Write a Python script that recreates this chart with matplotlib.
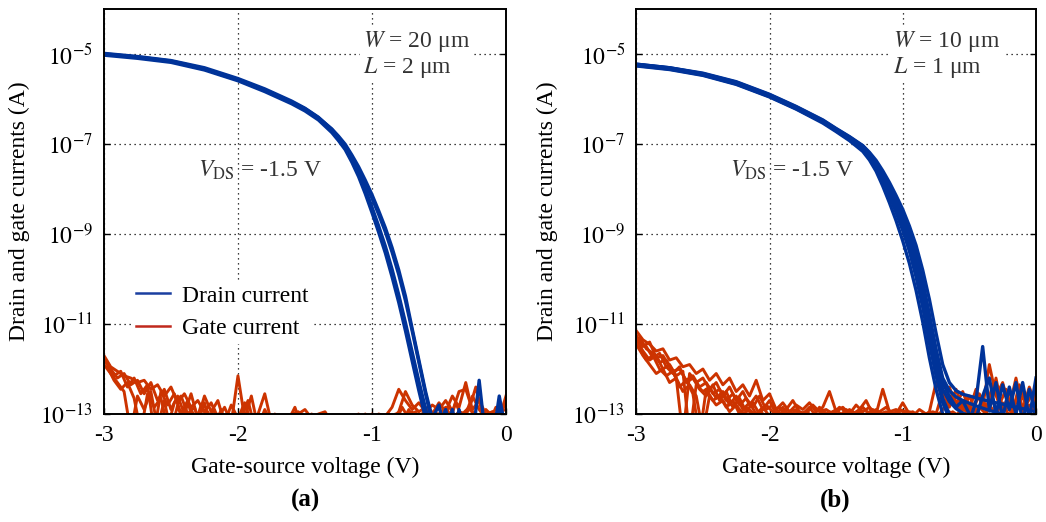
import numpy as np
import matplotlib
matplotlib.use("Agg")
import matplotlib.pyplot as plt
from matplotlib.lines import Line2D
from matplotlib.ticker import FixedLocator, FixedFormatter, NullLocator

plt.rcParams.update({
    "font.family": "Liberation Serif",
    "mathtext.fontset": "stix",
    "font.size": 17,
})

DRAIN_BLUE = "#003399"
GATE_RED = "#cc3300"
TEXT_GREY = "#333333"

# gate-source sweeps for the gate current traces (50 mV steps, two interleaved grids)
GATE_V = np.linspace(-3.0, 0.0, 61)
GATE_V_MID = np.linspace(-2.975, -0.025, 60)

# sweep points kept for the drain current traces
DRAIN_V = [-3.0, -2.75, -2.5, -2.25, -2.0, -1.8, -1.6, -1.5, -1.4, -1.3, -1.25, -1.2, -1.15,
           -1.1, -1.05, -1.0, -0.95, -0.9, -0.85, -0.8, -0.75, -0.7, -0.65, -0.6, -0.55,
           -0.5, -0.45, -0.4, -0.35, -0.3, -0.25, -0.2, -0.15, -0.1, -0.05, 0.0]

# ---- device (a): W = 20 um, L = 2 um, log10 of current in A ----
LOG_ID_A = [
    [-5.00, -5.07, -5.16, -5.33, -5.57, -5.80, -6.07, -6.23, -6.43, -6.70, -6.88, -7.08, -7.35,
     -7.66, -8.04, -8.45, -8.88, -9.33, -9.85, -10.42, -11.05, -11.70, -12.35, -12.95, -13.50,
     -13.6, -13.6, -13.6, -13.6, -13.6, -13.6, -13.6, -13.6, -13.6, -13.6, -13.6],
    [-4.98, -5.05, -5.14, -5.30, -5.54, -5.77, -6.04, -6.20, -6.40, -6.67, -6.85, -7.05, -7.31,
     -7.62, -7.99, -8.40, -8.82, -9.27, -9.78, -10.35, -10.97, -11.62, -12.27, -12.88, -13.45,
     -13.3, -12.9, -13.5, -13.6, -13.6, -13.6, -13.6, -13.6, -13.6, -13.6, -13.6],
    [-5.02, -5.09, -5.18, -5.35, -5.59, -5.83, -6.10, -6.26, -6.46, -6.74, -6.92, -7.12, -7.40,
     -7.72, -8.10, -8.52, -8.96, -9.42, -9.95, -10.52, -11.15, -11.82, -12.48, -13.10, -13.6,
     -13.6, -13.6, -13.6, -13.6, -13.6, -13.6, -13.6, -13.6, -13.6, -13.6, -13.6],
    [-4.99, -5.06, -5.15, -5.32, -5.56, -5.79, -6.06, -6.21, -6.41, -6.66, -6.82, -7.00, -7.24,
     -7.50, -7.80, -8.12, -8.48, -8.86, -9.30, -9.80, -10.38, -11.10, -11.80, -12.50, -13.10,
     -12.8, -13.5, -12.9, -13.6, -13.6, -13.6, -12.25, -13.6, -13.6, -12.6, -13.4],
    [-5.00, -5.07, -5.16, -5.33, -5.57, -5.80, -6.07, -6.22, -6.42, -6.68, -6.85, -7.03, -7.28,
     -7.55, -7.86, -8.20, -8.56, -8.95, -9.40, -9.90, -10.48, -11.15, -11.85, -12.55, -13.20,
     -13.6, -13.0, -13.6, -12.9, -13.6, -13.6, -13.6, -13.6, -13.6, -12.8, -13.6],
]

LOG_IG_A = [
    [-11.70, -11.95, -12.05, -12.15, -12.20, -12.30, -12.25, -12.45, -12.35, -12.60,
     -12.40, -12.75, -12.55, -12.85, -12.70, -12.95, -12.75, -13.10, -12.85, -13.20,
     -12.15, -13.10, -12.60, -13.30, -12.90, -13.20, -13.05, -13.30, -13.00, -12.95,
     -13.10, -13.00, -13.30, -13.05, -13.40, -13.10, -13.30, -13.05, -13.20, -13.00,
     -13.15, -13.00, -13.05, -12.85, -12.45, -12.70, -12.90, -12.75, -12.95, -12.80,
     -12.90, -12.70, -12.95, -12.50, -12.45, -12.90, -12.70, -13.00, -12.95, -13.05,
     -12.75],
    [-11.80, -12.00, -12.20, -12.10, -12.35, -12.25, -12.55, -12.30, -12.70, -12.45,
     -12.90, -12.60, -13.00, -12.55, -13.10, -12.60, -12.95, -12.70, -13.20, -12.80,
     -13.10, -12.75, -13.20, -13.00, -12.55, -13.20, -13.05, -13.30, -13.10, -13.00,
     -12.90, -13.10, -13.00, -12.95, -13.20, -13.05, -13.30, -13.10, -13.00, -13.20,
     -13.10, -13.25, -13.05, -13.10, -12.95, -12.50, -12.80, -12.95, -12.85, -13.00,
     -12.75, -12.95, -12.60, -12.85, -12.30, -12.95, -13.10, -12.90, -13.05, -12.95,
     -12.90],
    [-11.90, -12.10, -12.30, -12.50, -13.40, -12.60, -12.90, -12.50, -13.30, -12.70,
     -13.40, -12.80, -13.30, -12.90, -13.20, -12.75, -13.30, -13.00, -13.30, -13.10,
     -13.20, -13.30, -13.10, -13.30, -13.20, -13.30, -13.10, -13.30, -13.20, -13.30,
     -13.15, -13.30, -13.20, -13.30, -13.20, -13.30, -13.10, -13.30, -13.20, -13.30,
     -13.00, -13.30, -13.10, -13.20, -13.00, -13.10, -12.95, -13.10, -12.90, -13.20,
     -13.00, -12.85, -13.10, -12.95, -13.00, -12.60, -12.90, -13.10, -12.95, -13.10,
     -12.60],
]

# traces of device (a) sampled on the interleaved grid
LOG_IG_A_MID = [
    [-11.85, -12.15, -12.05, -12.40, -12.20, -12.55, -12.35, -13.40, -12.50, -12.80,
     -12.55, -13.00, -12.70, -13.30, -12.80, -13.10, -12.90, -13.40, -13.00, -13.30,
     -13.10, -12.70, -13.30, -13.10, -13.40, -13.00, -13.30, -13.15, -12.85, -13.30,
     -13.10, -13.30, -13.00, -13.40, -13.20, -13.30, -13.10, -13.40, -13.20, -13.30,
     -13.10, -13.30, -13.00, -13.20, -12.85, -13.10, -12.95, -13.20, -12.85, -13.10,
     -12.95, -13.20, -12.75, -13.10, -12.90, -12.40, -13.00, -13.20, -12.85, -13.10],
    [-11.95, -12.25, -12.45, -12.30, -12.65, -13.40, -12.55, -12.85, -12.65, -13.30,
     -12.75, -12.60, -13.00, -12.85, -13.30, -12.95, -13.30, -12.90, -13.40, -13.20,
     -13.40, -13.20, -13.40, -13.30, -13.40, -13.20, -13.40, -13.30, -13.40, -13.20,
     -13.40, -13.30, -13.40, -13.20, -13.40, -13.30, -13.40, -13.30, -13.40, -13.20,
     -13.30, -13.10, -13.30, -13.00, -13.20, -12.90, -13.20, -13.00, -13.30, -12.95,
     -13.20, -12.80, -13.10, -13.00, -12.85, -13.10, -13.00, -13.20, -13.05, -12.90],
]

# ---- device (b): W = 10 um, L = 1 um ----
LOG_ID_B = [
    [-5.26, -5.34, -5.47, -5.67, -5.95, -6.22, -6.53, -6.72, -6.92, -7.16, -7.35, -7.60, -7.93,
     -8.30, -8.70, -9.15, -9.65, -10.25, -10.95, -11.75, -12.45, -13.00, -13.40, -13.6, -13.6,
     -13.6, -13.6, -13.6, -13.6, -13.6, -13.6, -13.6, -13.6, -13.6, -13.6, -13.6],
    [-5.24, -5.32, -5.45, -5.65, -5.93, -6.20, -6.50, -6.69, -6.88, -7.10, -7.28, -7.50, -7.78,
     -8.10, -8.46, -8.85, -9.30, -9.85, -10.55, -11.35, -12.05, -12.65, -13.00, -13.25, -13.15,
     -13.5, -13.1, -13.6, -13.0, -13.4, -13.6, -13.1, -13.6, -13.2, -13.6, -13.6],
    [-5.23, -5.31, -5.44, -5.64, -5.92, -6.19, -6.49, -6.68, -6.86, -7.07, -7.24, -7.45, -7.71,
     -8.02, -8.37, -8.75, -9.18, -9.70, -10.38, -11.15, -11.90, -12.45, -12.72, -12.88, -12.98,
     -13.04, -13.10, -13.15, -13.20, -13.25, -13.30, -13.35, -13.40, -13.45, -13.50, -13.6],
    [-5.22, -5.30, -5.43, -5.62, -5.90, -6.17, -6.47, -6.66, -6.84, -7.04, -7.20, -7.40, -7.64,
     -7.92, -8.24, -8.58, -8.98, -9.45, -10.05, -10.78, -11.55, -12.20, -12.48, -12.62, -12.70,
     -12.76, -12.82, -12.87, -12.92, -12.96, -13.00, -13.02, -13.05, -13.07, -13.10, -13.12],
    [-5.22, -5.30, -5.42, -5.61, -5.89, -6.16, -6.46, -6.65, -6.83, -7.03, -7.18, -7.36, -7.59,
     -7.85, -8.14, -8.45, -8.82, -9.25, -9.80, -10.45, -11.20, -11.90, -12.30, -12.48, -12.56,
     -12.60, -12.64, -12.68, -12.72, -12.75, -12.78, -12.82, -12.85, -12.88, -12.92, -12.95],
    [-5.25, -5.33, -5.46, -5.66, -5.94, -6.21, -6.51, -6.70, -6.90, -7.13, -7.32, -7.54, -7.83,
     -8.15, -8.52, -8.92, -9.38, -9.95, -10.62, -11.42, -12.15, -12.75, -13.10, -13.30, -13.00,
     -13.20, -12.70, -11.50, -12.90, -12.30, -13.10, -12.40, -13.00, -12.30, -13.10, -12.20],
    [-5.23, -5.31, -5.44, -5.63, -5.91, -6.18, -6.48, -6.67, -6.85, -7.06, -7.23, -7.43, -7.69,
     -7.98, -8.31, -8.66, -9.08, -9.58, -10.20, -10.95, -11.72, -12.30, -12.60, -12.85, -12.70,
     -13.00, -13.10, -12.60, -12.20, -13.00, -12.35, -12.90, -12.30, -13.20, -12.45, -12.95],
]

LOG_IG_B = [
    [-11.15, -11.35, -11.45, -11.60, -11.55, -11.80, -11.75, -11.95, -11.90, -12.10,
     -12.00, -12.25, -12.10, -12.35, -12.20, -12.50, -12.35, -12.60, -12.25, -12.70,
     -12.55, -12.90, -12.75, -12.95, -12.80, -12.90, -12.75, -12.95, -12.85, -12.50,
     -12.95, -12.85, -13.00, -12.80, -12.95, -12.85, -13.00, -12.45, -12.95, -12.90,
     -13.05, -12.95, -13.00, -13.05, -12.95, -12.30, -12.60, -12.40, -12.80, -12.50,
     -12.90, -12.45, -12.85, -11.90, -12.60, -12.30, -12.85, -12.20, -12.90, -12.40,
     -12.80],
    [-11.25, -11.50, -11.40, -11.75, -11.70, -11.95, -12.20, -13.50, -12.10, -12.30,
     -12.20, -12.45, -12.30, -12.60, -12.40, -12.70, -12.50, -12.80, -12.60, -12.90,
     -12.70, -13.00, -12.85, -13.05, -12.90, -13.00, -12.85, -13.05, -12.95, -13.00,
     -12.90, -13.05, -12.90, -13.00, -12.85, -13.00, -12.90, -13.05, -12.95, -13.00,
     -12.75, -13.00, -13.05, -13.00, -13.05, -13.00, -12.50, -12.85, -12.45, -12.90,
     -12.60, -12.95, -12.70, -12.90, -12.20, -12.95, -12.50, -12.90, -12.60, -13.00,
     -12.50],
    [-11.35, -11.60, -11.80, -11.70, -12.00, -11.90, -12.15, -12.05, -13.50, -12.35,
     -12.50, -12.40, -12.65, -12.50, -12.80, -12.60, -12.90, -12.75, -13.00, -12.85,
     -13.05, -12.95, -13.05, -12.95, -13.05, -13.00, -13.05, -13.00, -13.05, -12.95,
     -13.05, -13.00, -13.05, -13.00, -13.05, -12.95, -13.05, -13.00, -13.05, -13.00,
     -13.05, -13.00, -13.05, -13.00, -13.05, -13.05, -13.10, -12.95, -13.05, -12.85,
     -13.05, -12.90, -13.05, -12.80, -13.00, -12.75, -13.05, -12.70, -13.00, -12.80,
     -13.00],
    [-11.45, -11.70, -11.90, -12.10, -12.00, -12.30, -12.20, -12.50, -12.35, -12.60,
     -13.40, -12.60, -12.80, -12.70, -12.95, -12.80, -13.00, -12.90, -13.05, -13.00,
     -13.05, -13.00, -13.05, -13.05, -13.00, -13.05, -13.05, -13.00, -13.05, -13.05,
     -13.00, -13.05, -13.05, -13.00, -13.05, -13.05, -13.00, -13.05, -13.05, -13.00,
     -13.05, -13.05, -13.00, -13.05, -13.05, -13.05, -13.05, -13.05, -13.05, -13.05,
     -13.05, -13.05, -13.05, -13.05, -13.05, -13.05, -13.05, -13.05, -13.05, -13.05,
     -13.05],
]

LOG_IG_B_MID = [
    [-11.30, -11.55, -11.65, -11.85, -11.80, -12.05, -12.00, -12.25, -12.15, -12.40,
     -12.30, -12.55, -12.45, -12.70, -12.55, -12.80, -12.65, -12.85, -12.60, -12.90,
     -12.80, -13.00, -12.90, -12.70, -12.95, -13.00, -12.80, -12.95, -12.90, -13.00,
     -12.85, -12.95, -13.00, -12.90, -12.70, -13.00, -12.95, -12.85, -13.00, -12.90,
     -12.95, -13.05, -12.90, -13.00, -12.95, -13.00, -12.80, -12.55, -12.90, -12.65,
     -12.95, -12.55, -12.90, -12.35, -12.80, -12.45, -12.95, -12.35, -12.80, -12.55],
    [-11.40, -11.50, -11.75, -11.65, -11.95, -12.10, -11.95, -12.30, -12.20, -12.45,
     -12.60, -12.35, -12.70, -12.50, -12.85, -12.65, -12.95, -12.75, -13.00, -12.80,
     -12.95, -12.85, -13.05, -12.90, -13.00, -12.95, -13.05, -12.85, -13.00, -12.95,
     -13.05, -12.90, -13.00, -12.95, -13.05, -12.90, -13.00, -12.95, -13.05, -12.90,
     -13.00, -12.95, -13.05, -13.00, -13.05, -13.05, -13.05, -12.95, -13.05, -12.80,
     -13.05, -12.85, -13.00, -12.70, -13.05, -12.80, -13.00, -12.85, -13.05, -12.90],
    [-11.55, -11.80, -11.70, -12.00, -12.15, -12.05, -12.40, -12.25, -12.55, -13.50,
     -12.45, -12.70, -12.60, -12.85, -12.70, -13.00, -12.85, -13.05, -12.95, -13.05,
     -13.00, -13.05, -13.00, -13.05, -13.00, -13.05, -13.00, -13.05, -13.00, -13.05,
     -13.00, -13.05, -13.00, -13.05, -13.00, -13.05, -13.00, -13.05, -13.00, -13.05,
     -13.05, -13.05, -13.05, -13.05, -13.05, -13.05, -13.05, -13.05, -13.05, -13.05,
     -13.05, -13.05, -13.05, -13.05, -13.05, -13.05, -13.05, -13.05, -13.05, -13.05],
]

X_TICKS = [-3, -2, -1, 0]
X_TICK_LABELS = ["-3", "-2", "-1", "0"]
Y_DECADES = [-13, -11, -9, -7, -5]


def draw_panel(ax, log_id, log_ig, log_ig_mid, w_text, l_text):
    for trace in log_ig:
        ax.plot(GATE_V, 10.0 ** np.asarray(trace), color=GATE_RED, lw=2.1,
                solid_joinstyle="round")
    for trace in log_ig_mid:
        ax.plot(GATE_V_MID, 10.0 ** np.asarray(trace), color=GATE_RED, lw=2.1,
                solid_joinstyle="round")
    for trace in log_id:
        ax.plot(DRAIN_V, 10.0 ** np.asarray(trace), color=DRAIN_BLUE, lw=2.4,
                solid_joinstyle="round")

    ax.set_yscale("log")
    ax.set_xlim(-3, 0)
    ax.set_ylim(1e-13, 1e-4)

    ax.xaxis.set_major_locator(FixedLocator(X_TICKS))
    ax.xaxis.set_major_formatter(FixedFormatter(X_TICK_LABELS))
    ax.yaxis.set_major_locator(FixedLocator([10.0 ** d for d in Y_DECADES]))
    ax.yaxis.set_major_formatter(FixedFormatter([f"$10^{{{d}}}$" for d in Y_DECADES]))
    ax.yaxis.set_minor_locator(NullLocator())
    ax.tick_params(direction="in", length=4, width=1.0, pad=8, labelsize=17,
                   top=False, right=True)
    ax.grid(True, which="major", linestyle=(0, (1, 3)), color="black", linewidth=0.9)
    for sp in ax.spines.values():
        sp.set_linewidth(1.4)

    ax.set_xlabel("Gate-source voltage (V)", fontsize=17)
    ax.set_ylabel("Drain and gate currents (A)", fontsize=17)
    ax.xaxis.set_label_coords(0.5, -0.105)

    box = dict(facecolor="white", edgecolor="none", pad=1.5)
    ax.text(-1.07, 10 ** -4.84, w_text, color=TEXT_GREY, fontsize=17,
            va="baseline", ha="left", bbox=box, zorder=5)
    ax.text(-1.07, 10 ** -5.42, l_text, color=TEXT_GREY, fontsize=17,
            va="baseline", ha="left", bbox=box, zorder=5)
    ax.text(-2.3, 10 ** -7.73, r"$V_{\mathrm{DS}}$ = -1.5 V", color=TEXT_GREY,
            fontsize=17, va="baseline", ha="left", zorder=5)


fig = plt.figure(figsize=(10.46, 5.22), dpi=100)
ax_a = fig.add_axes([0.0994, 0.2069, 0.3843, 0.7753])
ax_b = fig.add_axes([0.6083, 0.2069, 0.3821, 0.7753])

draw_panel(ax_a, LOG_ID_A, LOG_IG_A, LOG_IG_A_MID, r"$W$ = 20 μm", r"$L$ = 2 μm")
draw_panel(ax_b, LOG_ID_B, LOG_IG_B, LOG_IG_B_MID, r"$W$ = 10 μm", r"$L$ = 1 μm")
ax_a.yaxis.set_label_coords(-0.184, 0.5)
ax_b.yaxis.set_label_coords(-0.196, 0.5)

handles = [Line2D([], [], color="#1a3fa0", lw=1.8),
           Line2D([], [], color="#c0281c", lw=1.8)]
leg = ax_a.legend(handles, ["Drain current", "Gate current"], loc="center left",
                  bbox_to_anchor=(0.067, 0.252), borderaxespad=0, borderpad=0.2,
                  handlelength=1.45, handletextpad=0.5, labelspacing=0.45,
                  fontsize=17, frameon=True, fancybox=False)
leg.get_frame().set_facecolor("white")
leg.get_frame().set_edgecolor("none")
leg.get_frame().set_alpha(1.0)

fig.text(0.2916, 0.042, "(a)", fontsize=18, fontweight="bold",
         ha="center", va="center")
fig.text(0.798, 0.042, "(b)", fontsize=18, fontweight="bold",
         ha="center", va="center")

fig.savefig("out.png", dpi=100)
